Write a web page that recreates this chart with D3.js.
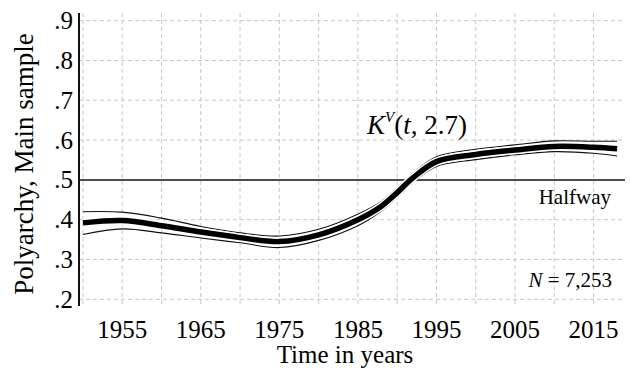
<!DOCTYPE html>
<html>
<head>
<meta charset="utf-8">
<script src="https://cdn.jsdelivr.net/npm/d3@7"></script>
<style>
	body { margin: 0; background: #fff; }
	svg { display: block; font-family: "Liberation Serif", "Times New Roman", serif; }
</style>
</head>
<body>
<svg id="main" width="630" height="370"></svg>
<script>
// values
const years = [1950, 1955, 1960, 1965, 1970, 1975, 1980, 1985, 1988, 1990, 1992, 1995, 2000, 2005, 2010, 2015, 2018];
const estimate = [0.392, 0.398, 0.385, 0.369, 0.355, 0.345, 0.362, 0.400, 0.434, 0.468, 0.505, 0.546, 0.564, 0.575, 0.584, 0.582, 0.578];
const upper = [0.420, 0.419, 0.404, 0.383, 0.367, 0.359, 0.376, 0.414, 0.446, 0.480, 0.517, 0.558, 0.577, 0.588, 0.598, 0.597, 0.597];
const lower = [0.363, 0.377, 0.367, 0.354, 0.342, 0.330, 0.348, 0.385, 0.422, 0.456, 0.493, 0.534, 0.551, 0.563, 0.571, 0.567, 0.560];
const yTicks = [0.2, 0.3, 0.4, 0.5, 0.6, 0.7, 0.8, 0.9];
const xTicks = [1955, 1965, 1975, 1985, 1995, 2005, 2015];
const xGrid = [1950, 1955, 1960, 1965, 1970, 1975, 1980, 1985, 1990, 1995, 2000, 2005, 2010, 2015];
const halfway = 0.5;

main();

function main() {
	let svg = d3.select('#main');

	let left = 79, right = 625, top = 13, bottom = 306;

	let x = d3.scaleLinear().domain([1949.5, 2019]).range([left, right]);
	let y = d3.scaleLinear().domain([0.2, 0.9]).range([299.3, 20.7]);

	// grid
	let grid = svg.append('g')
		.attr('stroke', '#c8c8c8')
		.attr('stroke-width', 1)
		.attr('stroke-dasharray', '4,3');

	grid.selectAll('.hg')
		.data(yTicks.filter(d => d !== halfway))
		.enter()
		.append('line')
		.attr('x1', left).attr('x2', right)
		.attr('y1', d => y(d)).attr('y2', d => y(d));

	grid.selectAll('.vg')
		.data(xGrid)
		.enter()
		.append('line')
		.attr('x1', d => x(d)).attr('x2', d => x(d))
		.attr('y1', top).attr('y2', bottom);

	// halfway line
	svg.append('line')
		.attr('x1', left).attr('x2', right)
		.attr('y1', y(halfway)).attr('y2', y(halfway))
		.attr('stroke', '#111')
		.attr('stroke-width', 1.5);

	let line = (vals) => d3.line()
		.x((d, i) => x(years[i]))
		.y(d => y(d))
		.curve(d3.curveCatmullRom.alpha(0.5))(vals);

	// confidence bands
	[upper, lower].forEach(vals => {
		svg.append('path')
			.attr('d', line(vals))
			.attr('fill', 'none')
			.attr('stroke', '#111')
			.attr('stroke-width', 1.1);
	});

	// estimate, white halo then thick black
	svg.append('path')
		.attr('d', line(estimate))
		.attr('fill', 'none')
		.attr('stroke', '#fff')
		.attr('stroke-width', 8.5);
	svg.append('path')
		.attr('d', line(estimate))
		.attr('fill', 'none')
		.attr('stroke', '#000')
		.attr('stroke-width', 5.5);

	// y axis
	svg.append('line')
		.attr('x1', left).attr('x2', left)
		.attr('y1', top).attr('y2', bottom)
		.attr('stroke', '#111')
		.attr('stroke-width', 2);

	let fmt = d => d3.format('.1f')(d).replace(/^0/, '');

	svg.append('g')
		.selectAll('text')
		.data(yTicks)
		.enter()
		.append('text')
		.attr('x', 73)
		.attr('y', d => y(d))
		.attr('dy', '0.34em')
		.attr('text-anchor', 'end')
		.attr('font-size', 25)
		.text(fmt);

	svg.append('g')
		.selectAll('text')
		.data(xTicks)
		.enter()
		.append('text')
		.attr('x', d => x(d))
		.attr('y', 338)
		.attr('text-anchor', 'middle')
		.attr('font-size', 25)
		.text(d => d);

	svg.append('text')
		.attr('x', 345)
		.attr('y', 363)
		.attr('text-anchor', 'middle')
		.attr('font-size', 25)
		.text('Time in years');

	svg.append('text')
		.attr('transform', 'translate(33,164) rotate(-90)')
		.attr('text-anchor', 'middle')
		.attr('font-size', 27)
		.text('Polyarchy, Main sample');

	// annotations
	let k = svg.append('text')
		.attr('x', 367)
		.attr('y', 134)
		.attr('font-size', 27);
	k.append('tspan').attr('font-style', 'italic').text('K');
	k.append('tspan').attr('font-style', 'italic').attr('font-size', 15).attr('dy', -12).text('V');
	k.append('tspan').attr('dy', 12).text('(');
	k.append('tspan').attr('font-style', 'italic').text('t');
	k.append('tspan').text(', 2.7)');

	svg.append('text')
		.attr('x', 611)
		.attr('y', 204)
		.attr('text-anchor', 'end')
		.attr('font-size', 21)
		.text('Halfway');

	let n = svg.append('text')
		.attr('x', 612)
		.attr('y', 287)
		.attr('text-anchor', 'end')
		.attr('font-size', 21);
	n.append('tspan').attr('font-style', 'italic').text('N');
	n.append('tspan').text(' = 7,253');
}
</script>
</body>
</html>
